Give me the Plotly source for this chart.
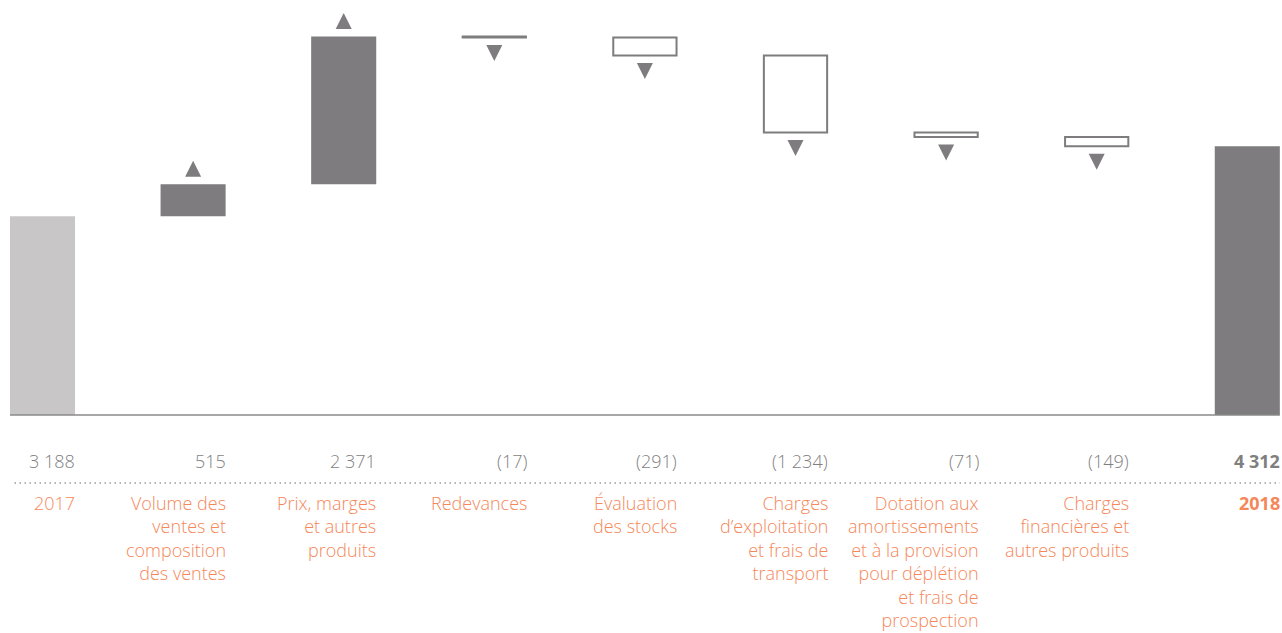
import plotly.graph_objects as go

# Bridge from 2017 to 2018 (values in millions)
categories = [
    "2017",
    "Volume des<br>ventes et<br>composition<br>des ventes",
    "Prix, marges<br>et autres<br>produits",
    "Redevances",
    "Évaluation<br>des stocks",
    "Charges<br>d’exploitation<br>et frais de<br>transport",
    "Dotation aux<br>amortissements<br>et à la provision<br>pour déplétion<br>et frais de<br>prospection",
    "Charges<br>financières et<br>autres produits",
    "2018",
]
start_value = 3188
changes = [515, 2371, -17, -291, -1234, -71, -149]
end_value = 4312

W, H = 1282, 633
BASE_PX = 415                  # pixel row of the zero line
K = (BASE_PX - 216.3) / start_value   # pixels per unit
BAR_W = 0.432
STEP = 150.6
X0 = 42.5 / STEP

DARK = "#7e7c7e"
LIGHT = "#c8c6c7"
ORANGE = "#f5875a"
GREY_TXT = "#7f7f7f"
FONT = "Open Sans"

n = len(categories)
xs = list(range(n))

# cumulative levels
levels = [start_value]
for c in changes:
    levels.append(levels[-1] + c)

fig = go.Figure()

# opening and closing totals
fig.add_trace(go.Bar(x=[0], y=[start_value], base=[0], width=BAR_W,
                     marker=dict(color=LIGHT, line=dict(width=0))))
fig.add_trace(go.Bar(x=[n - 1], y=[end_value], base=[0], width=BAR_W,
                     marker=dict(color=DARK, line=dict(width=0))))

inc_x, inc_y, inc_b = [], [], []
dec_x, dec_y, dec_b = [], [], []
up_x, up_y, dn_x, dn_y = [], [], [], []
for i, c in enumerate(changes, start=1):
    lo = min(levels[i - 1], levels[i])
    hi = max(levels[i - 1], levels[i])
    if c > 0:
        inc_x.append(i); inc_y.append(hi - lo); inc_b.append(lo)
        up_x.append(i); up_y.append(hi + 23.5 / K)
    else:
        dec_x.append(i); dec_y.append(hi - lo); dec_b.append(lo)
        dn_x.append(i); dn_y.append(lo - 23.5 / K)

fig.add_trace(go.Bar(x=inc_x, y=inc_y, base=inc_b, width=BAR_W,
                     marker=dict(color=DARK, line=dict(width=0))))
fig.add_trace(go.Bar(x=dec_x, y=dec_y, base=dec_b, width=BAR_W - 0.012,
                     marker=dict(color="white", line=dict(color=DARK, width=2))))

fig.add_trace(go.Scatter(x=up_x, y=up_y, mode="markers",
                         marker=dict(symbol="arrow-up", size=16, color=DARK)))
fig.add_trace(go.Scatter(x=dn_x, y=dn_y, mode="markers",
                         marker=dict(symbol="arrow-down", size=16, color=DARK)))


def fmt(v):
    s = f"{abs(v):,}".replace(",", " ")
    return f"({s})" if v < 0 else s


values = [start_value] + changes + [end_value]
annotations = []
for i, (v, cat) in enumerate(zip(values, categories)):
    last = i == n - 1
    vt = fmt(v)
    ct = cat
    if last:
        vt = f"<b>{vt}</b>"
        ct = f"<b>{ct}</b>"
    xr = i + BAR_W / 2
    annotations.append(dict(
        x=xr, y=1 - 461 / H, xref="x", yref="paper", text=vt,
        xanchor="right", yanchor="middle", showarrow=False, xshift=2,
        font=dict(family=FONT, size=18, color=GREY_TXT, weight=300 if not last else 700),
        align="right"))
    annotations.append(dict(
        x=xr, y=1 - 489 / H, xref="x", yref="paper", text=ct,
        xanchor="right", yanchor="top", showarrow=False, xshift=2,
        font=dict(family=FONT, size=18, color=ORANGE, weight=300 if not last else 700),
        align="right"))

shapes = [
    dict(type="line", xref="x", yref="y", x0=-BAR_W / 2, x1=n - 1 + BAR_W / 2,
         y0=0, y1=0, line=dict(color="#8a8a8a", width=1.5), layer="above"),
    dict(type="line", xref="x", yref="paper", x0=-BAR_W / 2 + 0.03, x1=n - 1 + BAR_W / 2,
         y0=1 - 483 / H, y1=1 - 483 / H,
         line=dict(color="#9a9a9a", width=1.5, dash="1.5px,3.5px")),
]

fig.update_layout(
    width=W, height=H,
    margin=dict(l=0, r=0, t=0, b=0),
    paper_bgcolor="white", plot_bgcolor="white",
    showlegend=False, barmode="overlay",
    xaxis=dict(range=[-X0, (W - 42.5) / STEP], visible=False, fixedrange=True),
    yaxis=dict(range=[-(H - BASE_PX) / K, BASE_PX / K], visible=False, fixedrange=True),
    annotations=annotations, shapes=shapes,
    font=dict(family=FONT),
)

fig.write_html("out.html", config={"displayModeBar": False})
